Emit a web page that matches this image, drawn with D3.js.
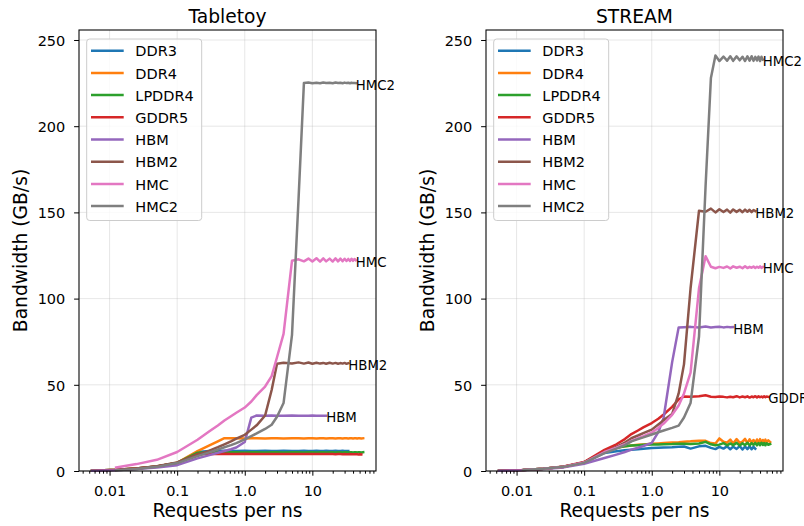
<!DOCTYPE html>
<html>
<head>
<meta charset="utf-8">
<script src="https://cdn.jsdelivr.net/npm/d3@7"></script>
<style>
  body { margin: 0; background: #fff; }
  svg { display: block; }
  text { font-family: "DejaVu Sans", sans-serif; fill: #000; }
</style>
</head>
<body>
<svg id="chart" width="804" height="526"></svg>
<script>
// Request rates (requests per ns) shared by every sweep
const rates = [0.0055, 0.0125, 0.025, 0.05, 0.1, 0.2, 0.3, 0.4, 0.5, 0.625,
  0.75, 1.0, 1.25, 1.5, 2.0, 2.5, 3.0, 3.75, 5.0, 6.25,
  7.5, 8.75, 10, 11.5, 13, 14.5, 16, 18, 20, 22,
  24, 26, 28, 30, 32, 34, 36, 38, 40, 42,
  44, 46, 48, 50, 53, 56.5];

const seriesNames = ["DDR3", "DDR4", "LPDDR4", "GDDR5", "HBM", "HBM2", "HMC", "HMC2"];

// Tabletoy bandwidth (GB/s); null where a memory was not swept
const tabletoyDDR3 = [0.2, 0.7, 1.4, 2.6, 4.7, 11.0, 11.6, 11.6, 11.7, 11.6,
  11.6, 11.7, 11.6, 11.6, 11.7, 11.6, 11.6, 11.7, 11.6, 11.6,
  11.7, 11.6, 11.6, 11.7, 11.6, 11.6, 11.7, 11.6, 11.6, 11.7,
  11.6, 11.6, 11.7, 11.6, 11.6, 11.6, null, null, null, null,
  null, null, null, null, null, null];
const tabletoyDDR4 = [0.2, 0.7, 1.4, 2.6, 4.8, 11.5, 14.8, 17.2, 19.0, 19.0,
  19.0, 18.9, 19.0, 19.0, 18.9, 19.0, 19.0, 18.9, 19.0, 19.0,
  18.9, 19.0, 19.0, 18.9, 19.0, 19.0, 18.9, 19.0, 19.0, 18.9,
  19.0, 19.0, 18.9, 19.0, 19.0, 18.9, 19.0, 19.0, 18.9, 19.0,
  19.0, 18.9, 19.0, 19.0, 18.9, 19.0];
const tabletoyLPDDR4 = [0.2, 0.7, 1.4, 2.6, 4.7, 10.6, 10.9, 10.9, 10.8, 10.9,
  10.9, 10.8, 10.9, 10.9, 10.8, 10.9, 10.9, 10.8, 10.9, 10.9,
  10.8, 10.9, 10.9, 10.8, 10.9, 10.9, 10.8, 10.9, 10.9, 10.8,
  10.9, 10.9, 10.8, 10.9, 10.9, 10.8, 10.9, 10.9, 10.8, 10.9,
  10.9, 10.8, 10.9, 10.9, 10.8, 10.9];
const tabletoyGDDR5 = [0.2, 0.7, 1.4, 2.6, 4.7, 9.8, 9.9, 9.9, 10.0, 9.9,
  9.9, 10.0, 9.9, 9.9, 9.9, 9.9, 9.9, 9.8, 9.9, 9.9,
  9.8, 9.9, 9.8, 9.8, 9.9, 9.8, 9.8, 9.8, 9.8, 9.7,
  9.8, 9.8, 9.7, 9.8, 9.7, 9.7, 9.8, 9.7, 9.7, 9.7,
  9.7, 9.7, 9.6, 9.7, 9.6, null];
const tabletoyHBM = [0.1, 0.5, 1.1, 2.0, 3.4, 7.3, 9.2, 10.6, 11.6, 12.6,
  13.6, 16.8, 31.0, 32.2, 32.1, 32.2, 32.0, 32.1, 32.2, 32.1,
  32.0, 32.1, 32.2, 32.1, 32.0, 32.1, 32.1, null, null, null,
  null, null, null, null, null, null, null, null, null, null,
  null, null, null, null, null, null];
const tabletoyHBM2 = [null, 0.6, 1.4, 2.7, 5.0, 9.4, 11.8, 13.8, 15.5, 17.2,
  18.8, 21.0, 24.0, 26.5, 32.2, 47.0, 62.2, 62.8, 62.4, 63.0,
  62.3, 62.9, 62.2, 62.8, 62.3, 62.7, 62.2, 62.8, 62.3, 62.7,
  62.2, 62.6, 62.3, 62.7, 62.2, 62.5, null, null, null, null,
  null, null, null, null, null, null];
const tabletoyHMC = [null, 2.0, 4.0, 6.5, 11.0, 18.1, 23.0, 26.4, 29.3, 31.8,
  33.8, 36.8, 40.3, 44.0, 49.0, 55.0, 66.0, 79.5, 122.0, 122.8,
  121.6, 123.2, 121.5, 123.4, 121.4, 123.3, 121.6, 123.2, 121.5, 123.3,
  121.6, 123.2, 121.7, 123.1, 121.8, 123.0, 121.8, 123.1, 121.9, 123.0,
  122.2, null, null, null, null, null];
const tabletoyHMC2 = [null, 0.5, 1.2, 2.4, 4.6, 8.6, 10.8, 12.5, 13.8, 15.0,
  16.2, 18.3, 20.2, 21.8, 24.4, 26.8, 31.5, 39.4, 79.0, 158.0,
  225.0, 225.3, 224.9, 225.2, 224.9, 225.3, 225.0, 225.2, 224.9, 225.3,
  225.0, 225.2, 224.9, 225.3, 225.0, 225.2, 224.9, 225.2, 225.0, 225.1,
  225.0, null, null, null, null, null];

// STREAM bandwidth (GB/s)
const streamDDR3 = [0.2, 0.6, 1.3, 2.5, 4.9, 10.5, 11.5, 12.0, 12.3, 12.6,
  12.9, 13.3, 13.5, 13.7, 13.8, 14.0, 14.2, 13.0, 14.3, 14.6,
  13.4, 12.7, 14.0, 13.0, 14.3, 12.6, 14.1, 12.8, 14.4, 12.5,
  14.2, 12.7, 14.3, 12.6, 14.0, 12.9, null, null, null, null,
  null, null, null, null, null, null];
const streamDDR4 = [0.2, 0.6, 1.3, 2.5, 5.0, 11.5, 13.5, 14.3, 14.8, 15.2,
  15.4, 15.8, 16.0, 16.2, 16.5, 16.7, 17.0, 17.2, 17.6, 17.5,
  16.2, 16.0, 18.9, 17.0, 16.4, 18.2, 16.0, 18.5, 16.3, 17.0,
  18.6, 16.2, 18.4, 16.5, 18.0, 16.1, 18.3, 16.4, 18.5, 16.2,
  18.0, 16.5, 18.2, 16.3, 17.8, 16.8];
const streamLPDDR4 = [0.2, 0.6, 1.3, 2.5, 5.0, 11.5, 13.5, 14.3, 14.8, 15.0,
  15.2, 15.3, 15.4, 15.5, 15.6, 15.8, 15.8, 15.6, 16.0, 16.9,
  15.5, 14.9, 15.3, 16.2, 14.9, 16.0, 15.0, 16.3, 14.8, 16.1,
  15.0, 16.4, 14.9, 16.2, 15.1, 16.3, 14.9, 16.2, 15.0, 16.4,
  15.1, 16.2, 14.9, 16.1, 15.2, 15.6];
const streamGDDR5 = [0.2, 0.6, 1.3, 2.6, 5.2, 12.3, 15.5, 18.5, 21.4, 23.5,
  25.3, 27.8, 30.3, 32.8, 37.2, 41.5, 43.2, 43.0, 43.3, 43.9,
  43.1, 42.9, 43.2, 43.0, 42.7, 43.1, 42.8, 43.4, 42.7, 43.2,
  42.8, 43.3, 42.6, 43.2, 42.8, 43.4, 42.7, 43.3, 42.8, 43.2,
  42.7, 43.3, 42.8, 43.2, 43.0, null];
const streamHBM = [0.1, 0.5, 1.1, 2.1, 4.2, 7.5, 9.5, 11.0, 12.4, 13.5,
  14.5, 16.3, 22.5, 31.0, 63.0, 83.3, 83.4, 83.6, 83.2, 83.8,
  83.3, 83.5, 83.7, 83.3, 83.6, 83.4, 83.5, null, null, null,
  null, null, null, null, null, null, null, null, null, null,
  null, null, null, null, null, null];
const streamHBM2 = [null, 0.6, 1.3, 2.5, 5.0, 11.0, 14.0, 16.5, 19.0, 20.6,
  22.0, 24.0, 27.0, 29.5, 33.0, 45.0, 62.0, 106.0, 151.0, 150.4,
  152.2, 150.0, 151.8, 150.2, 151.6, 149.9, 151.7, 150.3, 151.5, 150.1,
  151.6, 150.4, 151.5, 150.2, 151.4, 150.8, null, null, null, null,
  null, null, null, null, null, null];
const streamHMC = [null, 0.6, 1.3, 2.5, 4.9, 11.0, 13.5, 15.5, 17.5, 19.0,
  20.2, 22.3, 25.0, 27.5, 32.6, 38.0, 45.0, 57.0, 106.0, 124.6,
  118.5, 117.6, 118.4, 117.8, 118.6, 117.5, 118.7, 117.9, 118.5, 117.6,
  118.8, 117.7, 118.4, 117.9, 118.6, 117.8, 118.5, 117.9, 118.7, 117.8,
  118.4, null, null, null, null, null];
const streamHMC2 = [null, 0.6, 1.3, 2.4, 4.7, 10.4, 13.0, 15.0, 17.2, 18.5,
  19.5, 21.2, 22.5, 23.5, 25.0, 26.3, 31.0, 39.4, 78.0, 165.0,
  228.0, 241.0, 237.8, 240.4, 238.0, 240.6, 237.9, 240.5, 238.2, 240.3,
  237.8, 240.5, 238.0, 240.6, 237.9, 240.2, 238.1, 240.4, 237.8, 240.3,
  238.6, null, null, null, null, null];

// Series named at the end of their curve
const tabletoyLabels = ["HBM", "HBM2", "HMC", "HMC2"];
const streamLabels = ["GDDR5", "HBM", "HBM2", "HMC", "HMC2"];

// Axis ticks
const xMajorTicks = [0.01, 0.1, 1, 10];
const xTickLabels = ["0.01", "0.1", "1.0", "10"];
const yTicks = [0, 50, 100, 150, 200, 250];

const seriesColors = ["#1f77b4", "#ff7f0e", "#2ca02c", "#d62728",
                      "#9467bd", "#8c564b", "#e377c2", "#7f7f7f"];

const panels = [
  { title: "Tabletoy", left: 79, labels: tabletoyLabels,
    values: [tabletoyDDR3, tabletoyDDR4, tabletoyLPDDR4, tabletoyGDDR5,
             tabletoyHBM, tabletoyHBM2, tabletoyHMC, tabletoyHMC2] },
  { title: "STREAM", left: 486, labels: streamLabels,
    values: [streamDDR3, streamDDR4, streamLPDDR4, streamGDDR5,
             streamHBM, streamHBM2, streamHMC, streamHMC2] }
];

const plotTop = 30, plotBottom = 471, plotWidth = 297;
const xDomain = [0.00353, 87.4];
const yDomain = [0, 255.8];
const lineWidth = 2.5;

const svg = d3.select("#chart");
svg.append("rect").attr("width", 804).attr("height", 526).attr("fill", "#fff");

// minor ticks on the log axis: 2..9 times each power of ten inside the domain
const xMinorTicks = [];
for (let e = -3; e <= 1; e++) {
  for (let m = 2; m <= 9; m++) {
    const v = m * Math.pow(10, e);
    if (v >= xDomain[0] && v <= xDomain[1]) xMinorTicks.push(v);
  }
}

panels.forEach(p => {
  const x = d3.scaleLog().domain(xDomain).range([p.left, p.left + plotWidth]);
  const y = d3.scaleLinear().domain(yDomain).range([plotBottom, plotTop]);
  const g = svg.append("g");
  const cx = p.left + plotWidth / 2;

  // grid
  const grid = g.append("g").attr("stroke", "#b0b0b0").attr("stroke-opacity", 0.3).attr("stroke-width", 1);
  grid.selectAll("line.gx").data(xMajorTicks).join("line").attr("class", "gx")
    .attr("x1", d => x(d)).attr("x2", d => x(d))
    .attr("y1", plotTop).attr("y2", plotBottom);
  grid.selectAll("line.gy").data(yTicks).join("line").attr("class", "gy")
    .attr("x1", p.left).attr("x2", p.left + plotWidth)
    .attr("y1", d => y(d)).attr("y2", d => y(d));

  // curves
  const line = d3.line()
    .defined(d => d[1] != null)
    .x(d => x(d[0]))
    .y(d => y(d[1]));
  p.values.forEach((vals, i) => {
    g.append("path")
      .datum(rates.map((r, k) => [r, vals[k]]))
      .attr("d", line)
      .attr("fill", "none")
      .attr("stroke", seriesColors[i])
      .attr("stroke-width", lineWidth)
      .attr("stroke-linejoin", "round")
      .attr("stroke-linecap", "square");
  });

  // names at the end of selected curves
  p.labels.forEach(name => {
    const i = seriesNames.indexOf(name);
    const vals = p.values[i];
    let k = vals.length - 1;
    while (vals[k] == null) k--;
    g.append("text")
      .attr("x", x(rates[k]))
      .attr("y", y(vals[k]) + 6.5)
      .attr("font-size", "13.3px")
      .text(name);
  });

  // legend
  const lg = g.append("g");
  lg.append("rect")
    .attr("x", p.left + 7.7).attr("y", 39)
    .attr("width", 115).attr("height", 181.5)
    .attr("rx", 3).attr("ry", 3)
    .attr("fill", "#fff").attr("fill-opacity", 0.8)
    .attr("stroke", "#cccccc").attr("stroke-width", 1);
  seriesNames.forEach((name, i) => {
    const ry = 50.7 + i * 22.2;
    lg.append("line")
      .attr("x1", p.left + 12).attr("x2", p.left + 44.7)
      .attr("y1", ry).attr("y2", ry)
      .attr("stroke", seriesColors[i]).attr("stroke-width", lineWidth);
    lg.append("text")
      .attr("x", p.left + 56.3).attr("y", ry + 5.6)
      .attr("font-size", "14.5px")
      .text(name);
  });

  // axes
  const xAxis = g.append("g").attr("transform", `translate(0,${plotBottom})`)
    .call(d3.axisBottom(x).tickValues(xMajorTicks)
      .tickFormat((d, i) => xTickLabels[i]).tickSize(4.7).tickSizeOuter(0));
  xAxis.select(".domain").remove();
  xAxis.selectAll("text").attr("y", 25).attr("dy", null)
    .attr("font-size", "14.5px").attr("font-family", "DejaVu Sans");
  xAxis.attr("font-family", null).attr("font-size", null);
  const xMinor = g.append("g").attr("transform", `translate(0,${plotBottom})`)
    .call(d3.axisBottom(x).tickValues(xMinorTicks).tickFormat("").tickSize(2.7).tickSizeOuter(0));
  xMinor.select(".domain").remove();

  const yAxis = g.append("g").attr("transform", `translate(${p.left},0)`)
    .call(d3.axisLeft(y).tickValues(yTicks).tickFormat(d3.format("d")).tickSize(4.9).tickSizeOuter(0));
  yAxis.select(".domain").remove();
  yAxis.selectAll("text").attr("x", -13.7).attr("dy", "0.36em")
    .attr("font-size", "14.5px").attr("font-family", "DejaVu Sans");
  yAxis.attr("font-family", null).attr("font-size", null);

  // frame
  g.append("rect")
    .attr("x", p.left).attr("y", plotTop)
    .attr("width", plotWidth).attr("height", plotBottom - plotTop)
    .attr("fill", "none").attr("stroke", "#000").attr("stroke-width", 1.07);

  // titles
  g.append("text").attr("x", cx).attr("y", 23)
    .attr("text-anchor", "middle").attr("font-size", "18.7px").text(p.title);
  g.append("text").attr("x", cx).attr("y", 517)
    .attr("text-anchor", "middle").attr("font-size", "18.7px").text("Requests per ns");
  g.append("text")
    .attr("transform", `translate(${p.left - 52},${(plotTop + plotBottom) / 2}) rotate(-90)`)
    .attr("text-anchor", "middle").attr("font-size", "18.7px").text("Bandwidth (GB/s)");
});
</script>
</body>
</html>
